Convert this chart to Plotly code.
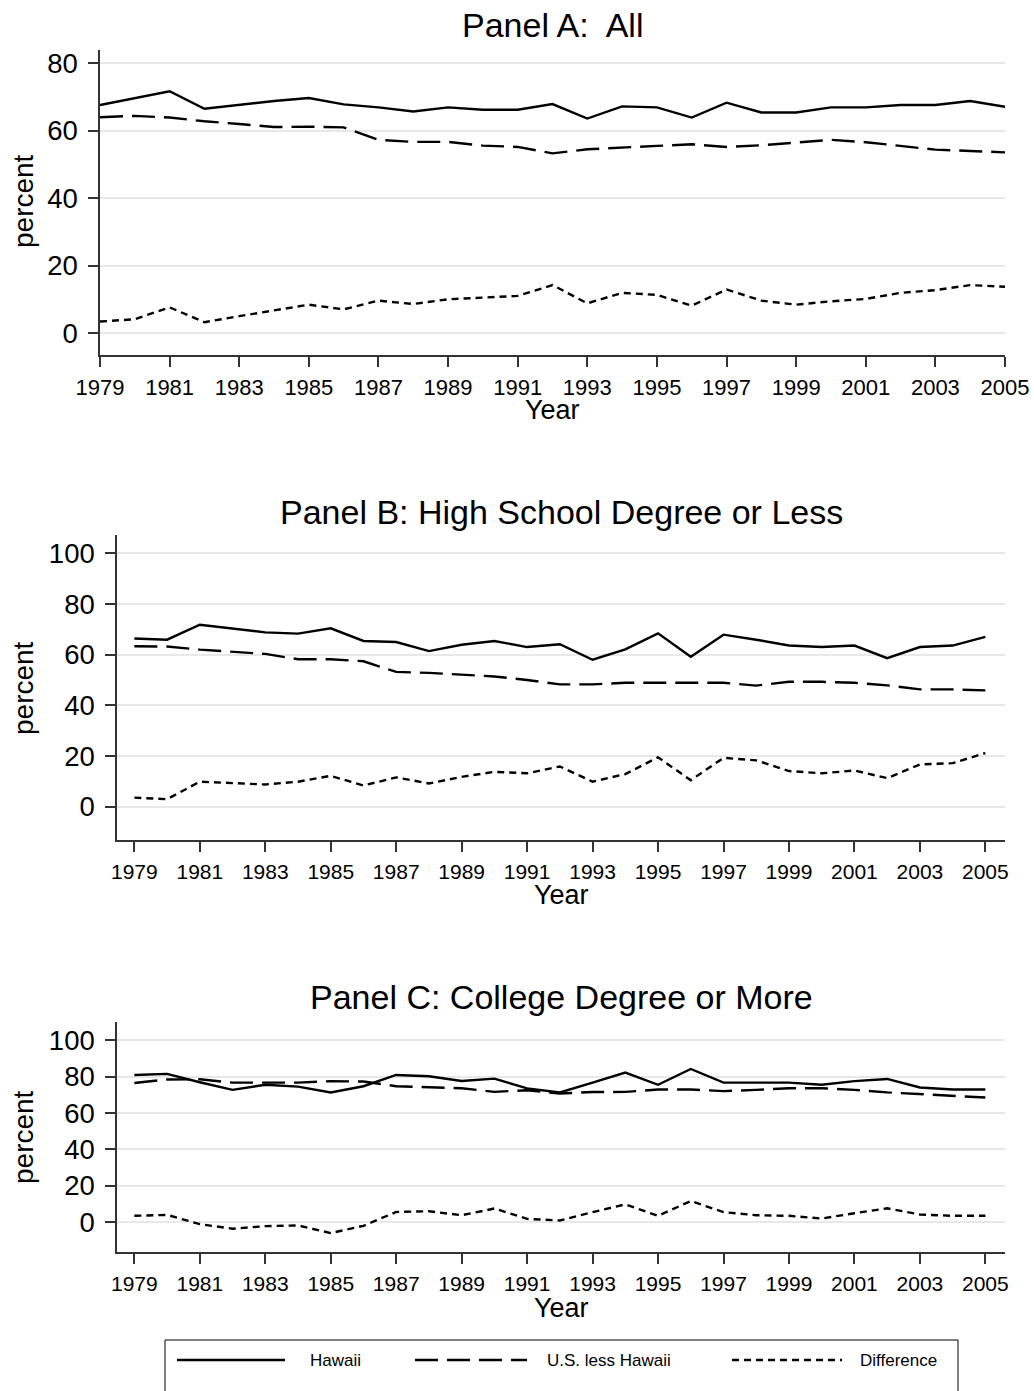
import plotly.graph_objects as go

W, H = 1034, 1391

years = list(range(1979, 2006))

# Panel A: All
a_hawaii = [67.6, 69.6, 71.7, 66.5, 67.7, 68.8, 69.7, 67.8, 66.9, 65.7, 66.9, 66.2, 66.2,
            67.9, 63.6, 67.2, 66.9, 63.9, 68.3, 65.4, 65.4, 66.9, 66.9, 67.6, 67.6, 68.8, 67.1]
a_us = [64.0, 64.4, 63.9, 62.8, 62.0, 61.1, 61.2, 61.0, 57.3, 56.7, 56.7, 55.6, 55.2,
        53.3, 54.5, 55.1, 55.5, 56.0, 55.2, 55.7, 56.6, 57.3, 56.6, 55.5, 54.4, 54.0, 53.6]
a_diff = [3.5, 4.2, 7.7, 3.3, 5.1, 6.9, 8.5, 7.1, 9.7, 8.7, 10.1, 10.6, 11.1,
          14.3, 8.9, 12.0, 11.4, 8.2, 13.0, 9.7, 8.5, 9.5, 10.2, 12.0, 12.8, 14.3, 13.8]

# Panel B: High School Degree or Less
b_hawaii = [66.4, 65.9, 71.8, 70.3, 68.8, 68.3, 70.4, 65.4, 65.0, 61.4, 63.9, 65.4, 63.0,
            64.1, 58.0, 62.1, 68.4, 59.2, 67.9, 65.9, 63.6, 63.0, 63.6, 58.6, 63.0, 63.6, 67.0]
b_us = [63.3, 63.2, 62.0, 61.2, 60.3, 58.2, 58.2, 57.4, 53.2, 52.8, 52.1, 51.4, 50.0,
        48.3, 48.3, 48.9, 48.9, 48.9, 48.9, 47.8, 49.3, 49.3, 48.9, 47.9, 46.3, 46.3, 45.9]
b_diff = [3.6, 3.0, 9.9, 9.2, 8.8, 9.9, 12.2, 8.4, 11.6, 9.2, 11.8, 13.8, 13.2,
          15.9, 9.9, 12.9, 19.5, 10.5, 19.3, 18.3, 14.1, 13.2, 14.3, 11.3, 16.7, 17.2, 21.2]

# Panel C: College Degree or More
c_hawaii = [80.9, 81.5, 76.9, 72.7, 75.5, 74.5, 71.3, 74.7, 80.9, 80.2, 77.6, 78.9, 73.5,
            71.3, 76.7, 82.2, 75.5, 84.2, 76.7, 76.7, 76.7, 75.5, 77.5, 78.7, 74.0, 72.9, 72.9]
c_us = [76.5, 78.4, 78.5, 76.7, 76.7, 76.7, 77.5, 77.3, 74.7, 74.0, 73.6, 71.6, 72.5,
        70.7, 71.5, 71.6, 72.9, 72.9, 72.0, 72.7, 73.6, 73.6, 72.7, 71.3, 70.4, 69.5, 68.5]
c_diff = [3.5, 4.0, -1.1, -3.6, -2.2, -1.8, -6.0, -2.0, 5.6, 6.0, 3.8, 7.5, 1.8,
          0.9, 5.5, 9.8, 3.5, 11.6, 5.5, 3.8, 3.5, 2.0, 4.9, 7.6, 4.2, 3.5, 3.5]

series_names = ["Hawaii", "U.S. less Hawaii", "Difference"]
panel_titles = ["Panel A:  All", "Panel B: High School Degree or Less", "Panel C: College Degree or More"]
x_ticks = list(range(1979, 2006, 2))
y_ticks_a = [0, 20, 40, 60, 80]
y_ticks_bc = [0, 20, 40, 60, 80, 100]

dashes = ["solid", "23px,9px", "7px,5px"]
FONT = "Liberation Sans, Arial, sans-serif"
NARROW = "Liberation Sans Narrow, Arial Narrow, Liberation Sans, sans-serif"


def px(x):
    return x / W


def py(y):
    return 1 - y / H


# panel geometry in pixels: (left, right, top, bottom), x range, y range
panels = [
    dict(l=100, r=1005, t=50, b=355, xr=[1979, 2005], yr=[-6.4, 83.9], yt=y_ticks_a,
         data=[a_hawaii, a_us, a_diff], title_y=25, ylab_y=201, year_y=410, xfs=22),
    dict(l=117, r=1005, t=535, b=840, xr=[1978.47, 2005.6], yr=[-13.1, 107.2], yt=y_ticks_bc,
         data=[b_hawaii, b_us, b_diff], title_y=512, ylab_y=688, year_y=895, xfs=21),
    dict(l=117, r=1005, t=1022, b=1252, xr=[1978.47, 2005.6], yr=[-16.4, 110], yt=y_ticks_bc,
         data=[c_hawaii, c_us, c_diff], title_y=997, ylab_y=1137, year_y=1308, xfs=21),
]

fig = go.Figure()
annotations = []
layout = {}

for i, p in enumerate(panels):
    sfx = "" if i == 0 else str(i + 1)
    for j, vals in enumerate(p["data"]):
        fig.add_trace(go.Scatter(
            x=years, y=vals, mode="lines", name=series_names[j], showlegend=False,
            line=dict(color="black", width=2.4, dash=dashes[j]),
            xaxis="x" + sfx, yaxis="y" + sfx,
        ))
    layout["xaxis" + sfx] = dict(
        domain=[px(p["l"]), px(p["r"])], range=p["xr"], anchor="y" + sfx,
        tickmode="array", tickvals=x_ticks, ticktext=[str(v) for v in x_ticks],
        showgrid=False, zeroline=False, showline=True, linecolor="#333333", linewidth=1.5,
        ticks="outside", ticklen=10, tickwidth=1.5, tickcolor="#333333",
        tickfont=dict(family=FONT, size=p["xfs"], color="black"),
        ticklabelstandoff=2, automargin=False,
    )
    layout["yaxis" + sfx] = dict(
        domain=[py(p["b"]), py(p["t"])], range=p["yr"], anchor="x" + sfx,
        tickmode="array", tickvals=p["yt"], ticktext=[str(v) for v in p["yt"]],
        showgrid=True, gridcolor="#e8e8e8", gridwidth=2, zeroline=False,
        showline=True, linecolor="#333333", linewidth=1.5,
        ticks="outside", ticklen=10, tickwidth=1.5, tickcolor="#333333",
        tickfont=dict(family=FONT, size=27.5, color="black"),
        ticklabelstandoff=5, automargin=False,
    )
    cx = (p["l"] + p["r"]) / 2
    annotations.append(dict(text=panel_titles[i], x=px(cx), y=py(p["title_y"]), xref="paper", yref="paper",
                            xanchor="center", yanchor="middle", showarrow=False,
                            font=dict(family=FONT, size=34, color="black")))
    annotations.append(dict(text="percent", x=px(23), y=py(p["ylab_y"]), xref="paper", yref="paper",
                            xanchor="center", yanchor="middle", showarrow=False, textangle=-90,
                            font=dict(family=FONT, size=28, color="black")))
    annotations.append(dict(text="Year", x=px(cx), y=py(p["year_y"]), xref="paper", yref="paper",
                            xanchor="center", yanchor="middle", showarrow=False,
                            font=dict(family=FONT, size=27, color="black")))

# custom legend
shapes = [dict(type="rect", xref="paper", yref="paper", x0=px(165), x1=px(958), y0=py(1392), y1=py(1340),
               line=dict(color="black", width=1), fillcolor="white", layer="below")]
leg_items = [(177, 285, 308), (415, 527, 545), (732, 842, 858)]
leg_y = 1360
for j, (x0, x1, tx) in enumerate(leg_items):
    shapes.append(dict(type="line", xref="paper", yref="paper", x0=px(x0), x1=px(x1), y0=py(leg_y), y1=py(leg_y),
                       line=dict(color="black", width=2.4, dash=dashes[j])))
    annotations.append(dict(text=series_names[j], x=px(tx), y=py(leg_y), xref="paper", yref="paper",
                            xanchor="left", yanchor="middle", showarrow=False,
                            font=dict(family=NARROW, size=17, color="black")))

fig.update_layout(
    width=W, height=H, margin=dict(l=0, r=0, t=0, b=0, autoexpand=False),
    paper_bgcolor="white", plot_bgcolor="white",
    showlegend=False, annotations=annotations, shapes=shapes,
    font=dict(family=FONT, color="black"),
    **layout,
)

fig.write_html("out.html", config={"displayModeBar": False},
               post_script="document.body.style.margin='0';document.body.style.overflow='hidden';")
